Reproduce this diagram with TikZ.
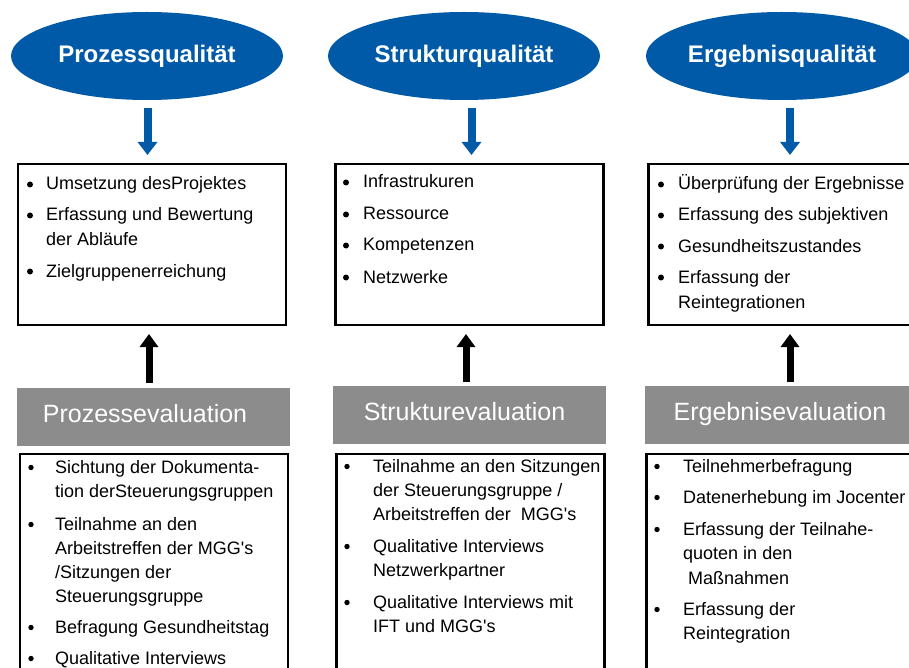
\documentclass[tikz,border=0pt]{standalone}
\usepackage{fontspec}
\setmainfont{Liberation Sans}
\usetikzlibrary{arrows.meta,shapes.geometric}
\definecolor{qblue}{RGB}{0,90,168}
\definecolor{qgray}{RGB}{140,140,140}
\newcommand{\qap}{\textquotesingle}
\begin{document}
\begin{tikzpicture}[x=1pt,y=-1pt,
  qual/.style={ellipse, fill=qblue, text=white, minimum width=272pt, minimum height=88pt, inner sep=0pt, outer sep=0pt, font=\fontsize{24}{28}\selectfont\bfseries},
  topbox/.style={draw, line width=2.5pt, minimum width=268pt, minimum height=161pt, inner sep=0pt, outer sep=0pt},
  graybox/.style={fill=qgray, minimum width=273pt, minimum height=58pt, inner sep=0pt, outer sep=0pt},
  graytext/.style={text=white, font=\fontsize{25}{30}\selectfont, inner sep=0pt, anchor=base},
  botbox/.style={draw, line width=2.5pt, minimum width=268pt, minimum height=300pt, inner sep=0pt, outer sep=0pt, anchor=north},
  itm/.style={anchor=base west, inner sep=0pt, font=\fontsize{18}{24}\selectfont},
  bluearrow/.style={draw=qblue, line width=8pt, -{Triangle[width=19pt,length=13pt]}},
  blackarrow/.style={draw=black, line width=7pt, -{Triangle[width=18pt,length=13pt]}},
  bul/.style={fill=black}
]
\useasboundingbox (0,0) rectangle (909,668);
\clip (0,0) rectangle (909,668);

% quality ellipses
\node[qual] (e1) at (147,56) {Prozessqualität};
\node[qual] (e2) at (464,56) {Strukturqualität};
\node[qual] (e3) at (782,56) {Ergebnisqualität};

% upper boxes
\node[topbox] (b1) at (152,244.5) {};
\node[topbox] (b2) at (469.5,244.5) {};
\node[topbox] (b3) at (782.5,244.5) {};

% gray evaluation boxes
\node[graybox] (g1) at (153.5,417) {};
\node[graybox] (g2) at (469.5,415) {};
\node[graybox] (g3) at (781.5,415) {};
\node[graytext] (gt1) at (145,422) {Prozessevaluation};
\node[graytext] (gt2) at (464.5,420) {Strukturevaluation};
\node[graytext] (gt3) at (780,420) {Ergebnisevaluation};

% lower boxes
\node[botbox] (d1) at (154,454) {};
\node[botbox] (d2) at (470.5,454) {};
\node[botbox] (d3) at (780.5,454) {};

% blue arrows
\draw[bluearrow, shorten >=9pt] ([shift={(0.5,8)}]e1.south) -- ([shift={(0.5,0)}]e1.south |- b1.north);
\draw[bluearrow, shorten >=9pt] ([shift={(7.5,8)}]e2.south) -- ([shift={(7.5,0)}]e2.south |- b2.north);
\draw[bluearrow, shorten >=9pt] ([shift={(8,8)}]e3.south) -- ([shift={(8,0)}]e3.south |- b3.north);

% black arrows
\draw[blackarrow, shorten >=9pt] ([shift={(-4.5,-5)}]g1.north) -- ([shift={(-4.5,0)}]g1.north |- b1.south);
\draw[blackarrow, shorten >=9pt] ([shift={(-3.5,-4)}]g2.north) -- ([shift={(-3.5,0)}]g2.north |- b2.south);
\draw[blackarrow, shorten >=9pt] ([shift={(8.5,-4)}]g3.north) -- ([shift={(8.5,0)}]g3.north |- b3.south);

% box 1 text
\node[itm] (t11) at (46,190) {Umsetzung desProjektes};
\node[itm] (t12) at (46,221) {Erfassung und Bewertung};
\node[itm] (t13) at (46,245) {der Abläufe};
\node[itm] (t14) at (46,277) {Zielgruppenerreichung};
\foreach \yy in {190,221,277} \fill[bul] (30,\yy-5.5) circle (3pt);

% box 2 text
\node[itm] (t21) at (363,188) {Infrastrukuren};
\node[itm] (t22) at (363,220) {Ressource};
\node[itm] (t23) at (363,251) {Kompetenzen};
\node[itm] (t24) at (363,283) {Netzwerke};
\foreach \yy in {188,220,251,283} \fill[bul] (346,\yy-5.5) circle (3pt);

% box 3 text
\node[itm] (t31) at (678,190) {Überprüfung der Ergebnisse};
\node[itm] (t32) at (678,221) {Erfassung des subjektiven};
\node[itm] (t33) at (678,252) {Gesundheitszustandes};
\node[itm] (t34) at (678,283) {Erfassung der};
\node[itm] (t35) at (678,308) {Reintegrationen};
\foreach \yy in {190,221,252,283} \fill[bul] (661,\yy-5.5) circle (3pt);

% lower box 1 text
\node[itm] (u11) at (55,473) {Sichtung der Dokumenta-};
\node[itm] (u12) at (55,497) {tion derSteuerungsgruppen};
\node[itm] (u13) at (55,530) {Teilnahme an den};
\node[itm] (u14) at (55,554) {Arbeitstreffen der MGG\qap s};
\node[itm] (u15) at (55,578) {/Sitzungen der};
\node[itm] (u16) at (55,602) {Steuerungsgruppe};
\node[itm] (u17) at (55,633) {Befragung Gesundheitstag};
\node[itm] (u18) at (55,664) {Qualitative Interviews};
\foreach \yy in {473,530,633,664} \fill[bul] (31,\yy-5.5) circle (2.7pt);

% lower box 2 text
\node[itm] (u21) at (373,472) {Teilnahme an den Sitzungen};
\node[itm] (u22) at (373,496) {der Steuerungsgruppe /};
\node[itm] (u23) at (373,520) {Arbeitstreffen der\ \ MGG\qap s};
\node[itm] (u24) at (373,552) {Qualitative Interviews};
\node[itm] (u25) at (373,576) {Netzwerkpartner};
\node[itm] (u26) at (373,608) {Qualitative Interviews mit};
\node[itm] (u27) at (373,632) {IFT und MGG\qap s};
\foreach \yy in {472,552,608} \fill[bul] (347,\yy-5.5) circle (2.7pt);

% lower box 3 text
\node[itm] (u31) at (683,472) {Teilnehmerbefragung};
\node[itm] (u32) at (683,503) {Datenerhebung im Jocenter};
\node[itm] (u33) at (683,535) {Erfassung der Teilnahe-};
\node[itm] (u34) at (683,559) {quoten in den};
\node[itm] (u35) at (688,584) {Maßnahmen};
\node[itm] (u36) at (683,615) {Erfassung der};
\node[itm] (u37) at (683,639) {Reintegration};
\foreach \yy in {472,503,535,615} \fill[bul] (657,\yy-5.5) circle (2.7pt);
\end{tikzpicture}
\end{document}
